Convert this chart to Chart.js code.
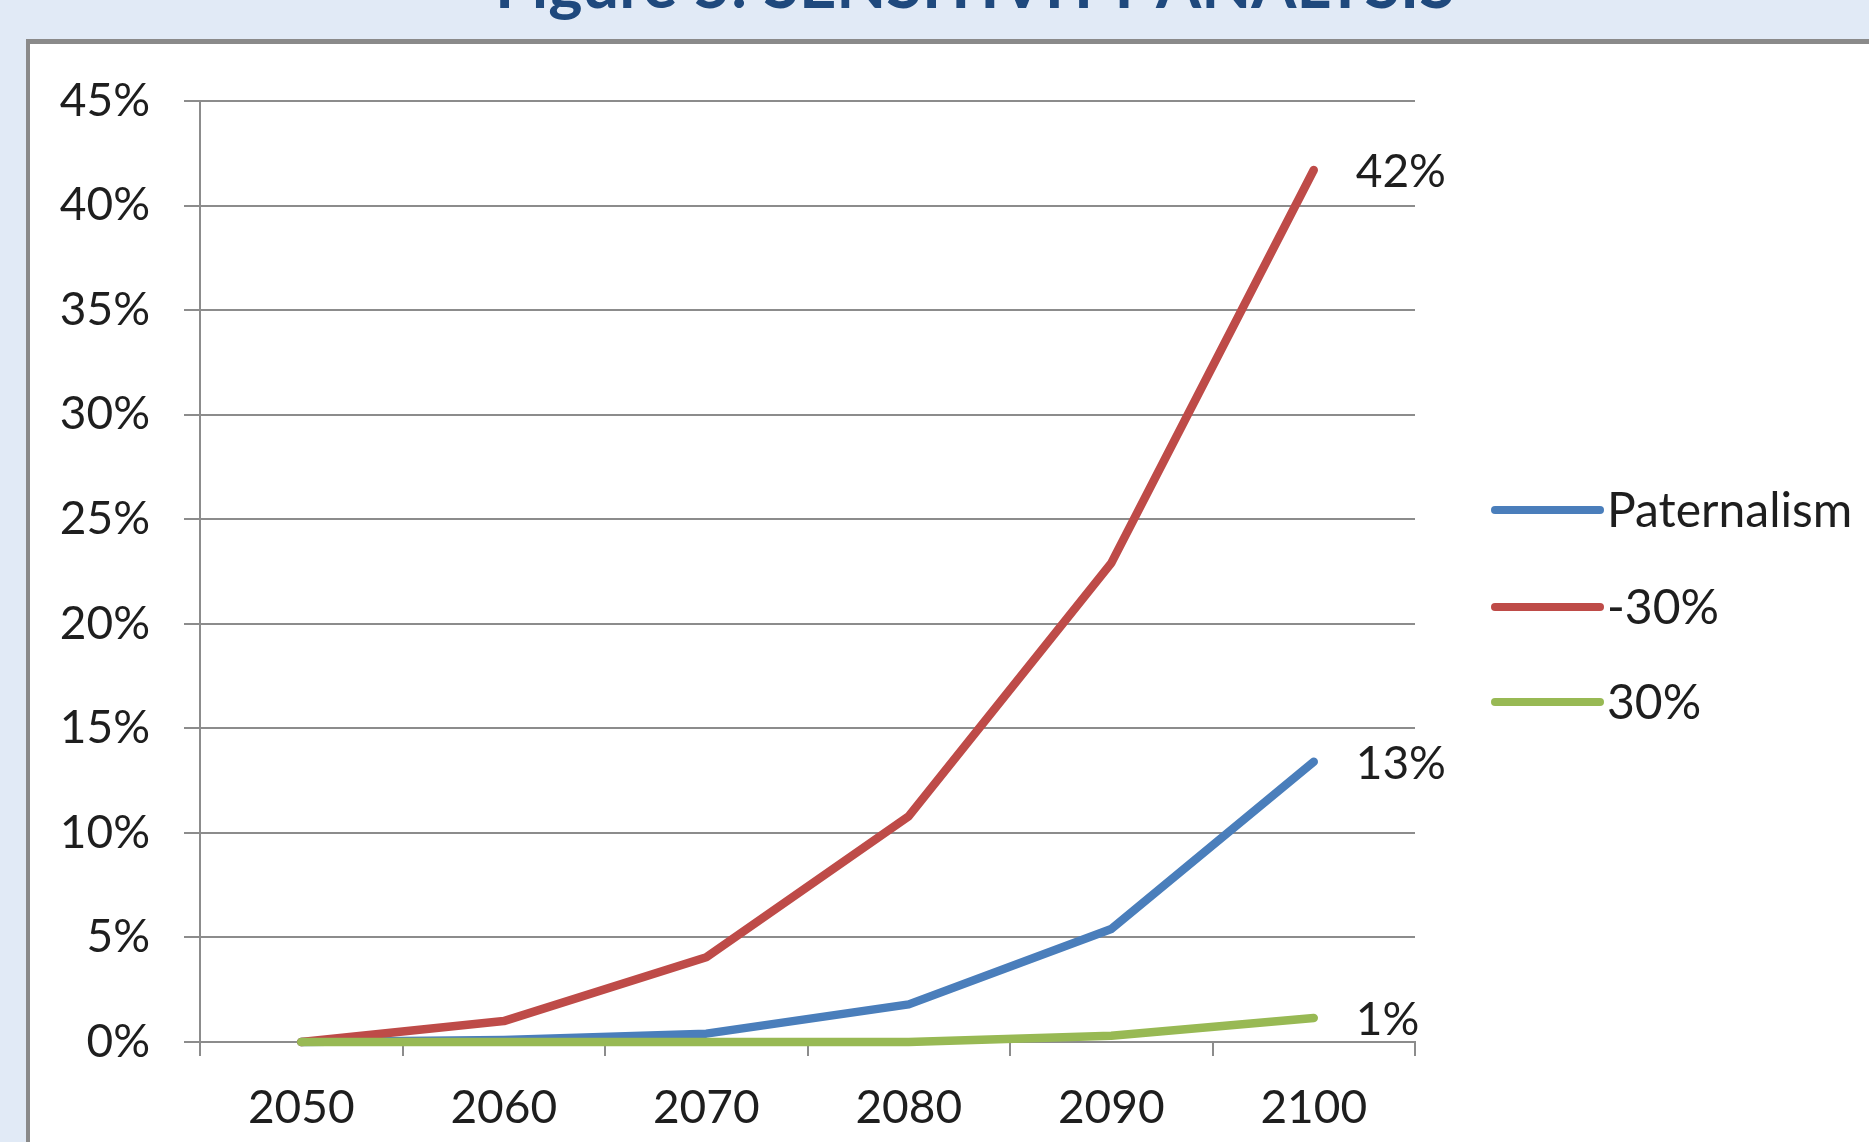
<!DOCTYPE html>
<html>
<head>
<meta charset="utf-8">
<script src="https://cdn.jsdelivr.net/npm/chart.js@4.4.1/dist/chart.umd.min.js"></script>
<style>
  html, body { margin: 0; padding: 0; }
  body { width: 1869px; height: 1142px; background: #e1eaf6; position: relative; overflow: hidden; font-family: Lato, "Liberation Sans", sans-serif; }
  #title { position: absolute; left: 0; width: 1950px; top: -49px; text-align: center; font-size: 65px; line-height: 65px; font-weight: bold; color: #1f497d; white-space: nowrap; }
  #box { position: absolute; left: 26px; top: 39px; width: 1900px; height: 1200px; background: #fff; border-left: 4px solid #8a8a8a; border-top: 5px solid #8a8a8a; }
  #c { position: absolute; left: 0; top: 0; }
</style>
</head>
<body>
<div id="title">Figure 5: SENSITIVITY ANALYSIS</div>
<div id="box"></div>
<canvas id="c" width="1869" height="1142"></canvas>
<script>
// ---- data (percent values) ----
const years = ['2050', '2060', '2070', '2080', '2090', '2100'];
const seriesNames = ['Paternalism', '-30%', '30%'];
const paternalism = [0, 0.1, 0.4, 1.8, 5.4, 13.4];
const minus30 = [0, 1.0, 4.05, 10.8, 22.9, 41.7];
const plus30 = [0, 0, 0, 0, 0.3, 1.15];
const seriesColors = ['#4a7ebb', '#be4b48', '#98b954'];
const yMin = 0, yMax = 45, yStep = 5;

const FONT = 'Lato, "Liberation Sans", sans-serif';
const TEXT = '#1e1e1e';
const GRID = '#8c8c8c';

const endLabels = {
  id: 'endLabels',
  afterDatasetsDraw(chart) {
    const ctx = chart.ctx;
    ctx.save();
    ctx.font = '46px ' + FONT;
    ctx.fillStyle = TEXT;
    ctx.textAlign = 'left';
    ctx.textBaseline = 'middle';
    chart.data.datasets.forEach((ds, i) => {
      const meta = chart.getDatasetMeta(i);
      const last = meta.data[meta.data.length - 1];
      const v = ds.data[ds.data.length - 1];
      ctx.fillText(Math.round(v) + '%', last.x + 42, last.y + 2);
    });
    ctx.restore();
  }
};

const sideLegend = {
  id: 'sideLegend',
  afterDraw(chart) {
    const ctx = chart.ctx;
    const rows = [510, 607, 702];
    ctx.save();
    ctx.font = '48px ' + FONT;
    ctx.textAlign = 'left';
    ctx.textBaseline = 'middle';
    chart.data.datasets.forEach((ds, i) => {
      const y = rows[i];
      ctx.strokeStyle = ds.borderColor;
      ctx.lineWidth = 8;
      ctx.lineCap = 'round';
      ctx.beginPath();
      ctx.moveTo(1495, y);
      ctx.lineTo(1600, y);
      ctx.stroke();
      ctx.fillStyle = TEXT;
      ctx.fillText(ds.label, 1607, y + 2);
    });
    ctx.restore();
  }
};

const mk = (i, data, order) => ({
  label: seriesNames[i],
  data: data,
  borderColor: seriesColors[i],
  backgroundColor: seriesColors[i],
  borderWidth: 8.5,
  borderCapStyle: 'round',
  borderJoinStyle: 'round',
  pointRadius: 0,
  tension: 0,
  fill: false,
  clip: false,
  order: order
});

new Chart(document.getElementById('c'), {
  type: 'line',
  data: {
    labels: years,
    datasets: [mk(0, paternalism, 3), mk(1, minus30, 2), mk(2, plus30, 1)]
  },
  options: {
    responsive: false,
    animation: false,
    devicePixelRatio: 1,
    layout: { padding: { top: 101, right: 454, bottom: 0, left: 0 } },
    plugins: { legend: { display: false }, tooltip: { enabled: false } },
    scales: {
      x: {
        type: 'category',
        offset: true,
        grid: { display: true, drawOnChartArea: false, drawTicks: true, tickLength: 14, offset: true, color: GRID, lineWidth: 2 },
        border: { display: true, color: GRID, width: 2 },
        ticks: { font: { size: 46, family: FONT }, color: TEXT, padding: 25, maxRotation: 0, autoSkip: false },
        afterFit(s) { s.height = 100; }
      },
      y: {
        min: yMin, max: yMax,
        grid: { color: GRID, lineWidth: 2, tickLength: 16, drawTicks: true },
        border: { display: true, color: GRID, width: 2 },
        ticks: { stepSize: yStep, font: { size: 46, family: FONT }, color: TEXT, padding: 34, callback: v => v + '%' },
        afterFit(s) { s.width = 200; }
      }
    }
  },
  plugins: [endLabels, sideLegend]
});
</script>
</body>
</html>
